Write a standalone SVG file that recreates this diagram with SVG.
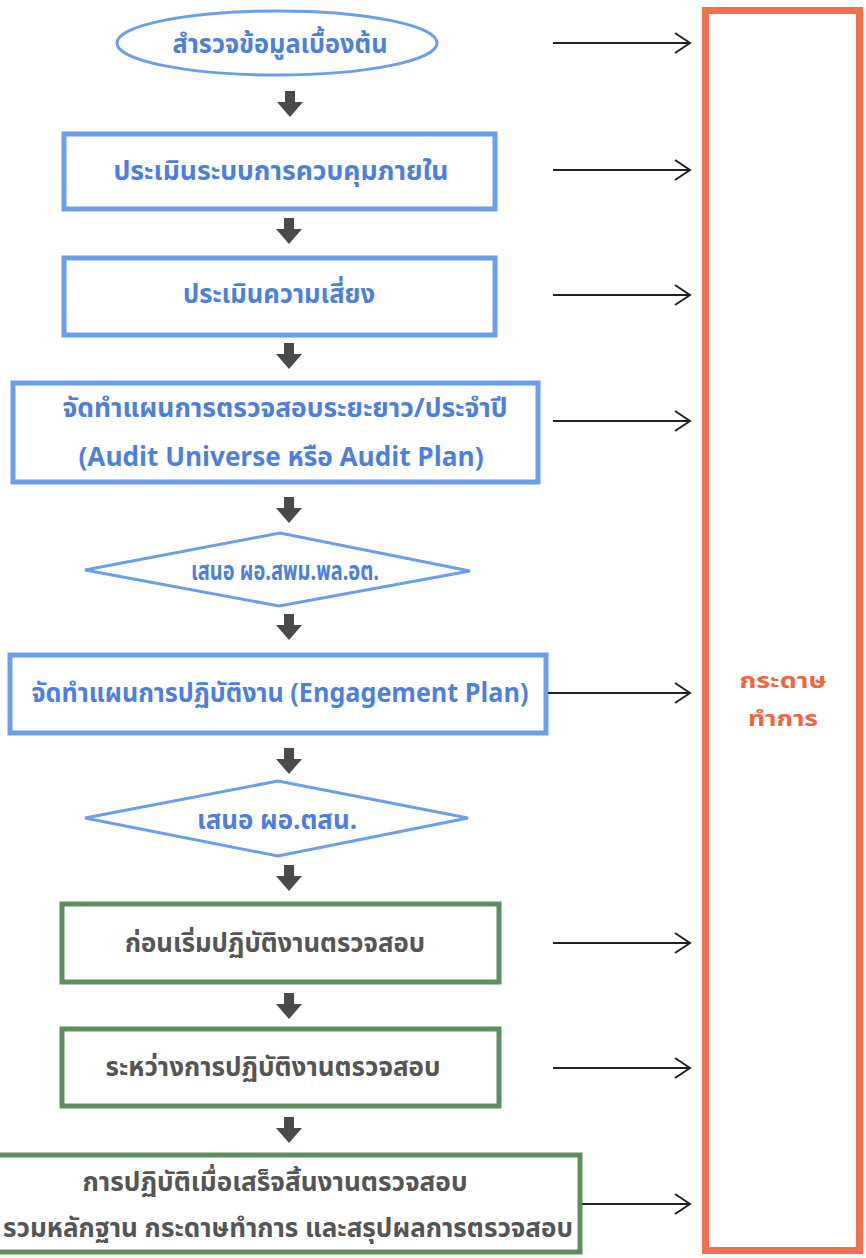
<svg xmlns="http://www.w3.org/2000/svg" width="866" height="1258" viewBox="0 0 866 1258">
<style>
.bt{font-family:Tahoma,"Noto Sans Thai","Noto Sans",sans-serif;font-weight:bold;font-size:26px;fill:#4d7fe0;text-anchor:middle}
.gt{font-family:Tahoma,"Noto Sans Thai","Noto Sans",sans-serif;font-weight:bold;font-size:26px;fill:#555555;text-anchor:middle}
.rt{font-family:Tahoma,"Noto Sans Thai","Noto Sans",sans-serif;font-weight:bold;font-size:22px;fill:#f0663c;text-anchor:middle}
.bb{fill:#ffffff;stroke:#6b9fea;stroke-width:5}
.bs{fill:#ffffff;stroke:#6b9fea;stroke-width:3}
.gb{fill:#ffffff;stroke:#5e8d5e;stroke-width:5}
.con{stroke:#222222;stroke-width:2;fill:none;marker-end:url(#open)}
.dn{fill:#4a4a4a}
</style>
<defs>
<marker id="open" markerWidth="18" markerHeight="22" refX="16" refY="11" orient="auto" markerUnits="userSpaceOnUse">
<path d="M1,1 L16,11 L1,21" fill="none" stroke="#222222" stroke-width="2"/>
</marker>
<path id="down" d="M-5,0 H5 V11 H13 L0,26 L-13,11 H-5 Z"/>
</defs>

<g id="n-workpaper">
<rect x="705.5" y="10.5" width="154" height="1240" fill="#ffffff" stroke="#f3704f" stroke-width="7"/>
<text class="rt" x="783" y="688" textLength="87" lengthAdjust="spacingAndGlyphs">กระดาษ</text>
<text class="rt" x="783" y="726" textLength="70" lengthAdjust="spacingAndGlyphs">ทำการ</text>
</g>

<g id="n1">
<ellipse class="bs" cx="277" cy="43" rx="160" ry="32"/>
<text class="bt" x="280" y="53" textLength="215" lengthAdjust="spacingAndGlyphs">สำรวจข้อมูลเบื้องต้น</text>
</g>
<g id="n2">
<rect class="bb" x="64" y="134" width="431" height="75"/>
<text class="bt" x="281" y="180" textLength="335" lengthAdjust="spacingAndGlyphs">ประเมินระบบการควบคุมภายใน</text>
</g>
<g id="n3">
<rect class="bb" x="64" y="258" width="431" height="77"/>
<text class="bt" x="279" y="303" textLength="192" lengthAdjust="spacingAndGlyphs">ประเมินความเสี่ยง</text>
</g>
<g id="n4">
<rect class="bb" x="13" y="383" width="525" height="99"/>
<text class="bt" x="285" y="417" textLength="445" lengthAdjust="spacingAndGlyphs">จัดทำแผนการตรวจสอบระยะยาว/ประจำปี</text>
<text class="bt" x="281" y="466" textLength="405" lengthAdjust="spacingAndGlyphs">(Audit Universe หรือ Audit Plan)</text>
</g>
<g id="n5">
<polygon class="bs" points="85,570 280,533 470,571 279,606"/>
<text class="bt" x="285" y="580" textLength="188" lengthAdjust="spacingAndGlyphs">เสนอ ผอ.สพม.พล.อต.</text>
</g>
<g id="n6">
<rect class="bb" x="10" y="655" width="536" height="78"/>
<text class="bt" x="280" y="702" textLength="497" lengthAdjust="spacingAndGlyphs">จัดทำแผนการปฏิบัติงาน (Engagement Plan)</text>
</g>
<g id="n7">
<polygon class="bs" points="85,818 278,781 468,818 278,856"/>
<text class="bt" x="277" y="829" textLength="160" lengthAdjust="spacingAndGlyphs">เสนอ ผอ.ตสน.</text>
</g>
<g id="n8">
<rect class="gb" x="62" y="904" width="437" height="78"/>
<text class="gt" x="275" y="952" textLength="300" lengthAdjust="spacingAndGlyphs">ก่อนเริ่มปฏิบัติงานตรวจสอบ</text>
</g>
<g id="n9">
<rect class="gb" x="62" y="1029" width="437" height="77"/>
<text class="gt" x="273" y="1076" textLength="335" lengthAdjust="spacingAndGlyphs">ระหว่างการปฏิบัติงานตรวจสอบ</text>
</g>
<g id="n10">
<rect class="gb" x="-20" y="1155" width="600" height="97"/>
<text class="gt" x="275" y="1191" textLength="385" lengthAdjust="spacingAndGlyphs">การปฏิบัติเมื่อเสร็จสิ้นงานตรวจสอบ</text>
<text class="gt" x="3" y="1237" style="text-anchor:start" textLength="570" lengthAdjust="spacingAndGlyphs">รวมหลักฐาน กระดาษทำการ และสรุปผลการตรวจสอบ</text>
</g>

<g id="connectors">
<use href="#down" class="dn" x="290" y="91"/>
<use href="#down" class="dn" x="289" y="218"/>
<use href="#down" class="dn" x="289" y="343"/>
<use href="#down" class="dn" x="289" y="497"/>
<use href="#down" class="dn" x="289" y="614"/>
<use href="#down" class="dn" x="289" y="748"/>
<use href="#down" class="dn" x="289" y="865"/>
<use href="#down" class="dn" x="289" y="993"/>
<use href="#down" class="dn" x="289" y="1117"/>
<line class="con" x1="553" y1="43" x2="690" y2="43"/>
<line class="con" x1="553" y1="170" x2="690" y2="170"/>
<line class="con" x1="553" y1="295" x2="690" y2="295"/>
<line class="con" x1="553" y1="421" x2="690" y2="421"/>
<line class="con" x1="548" y1="693" x2="690" y2="693"/>
<line class="con" x1="553" y1="943" x2="690" y2="943"/>
<line class="con" x1="553" y1="1068" x2="690" y2="1068"/>
<line class="con" x1="582" y1="1204" x2="690" y2="1204"/>
</g>
</svg>
